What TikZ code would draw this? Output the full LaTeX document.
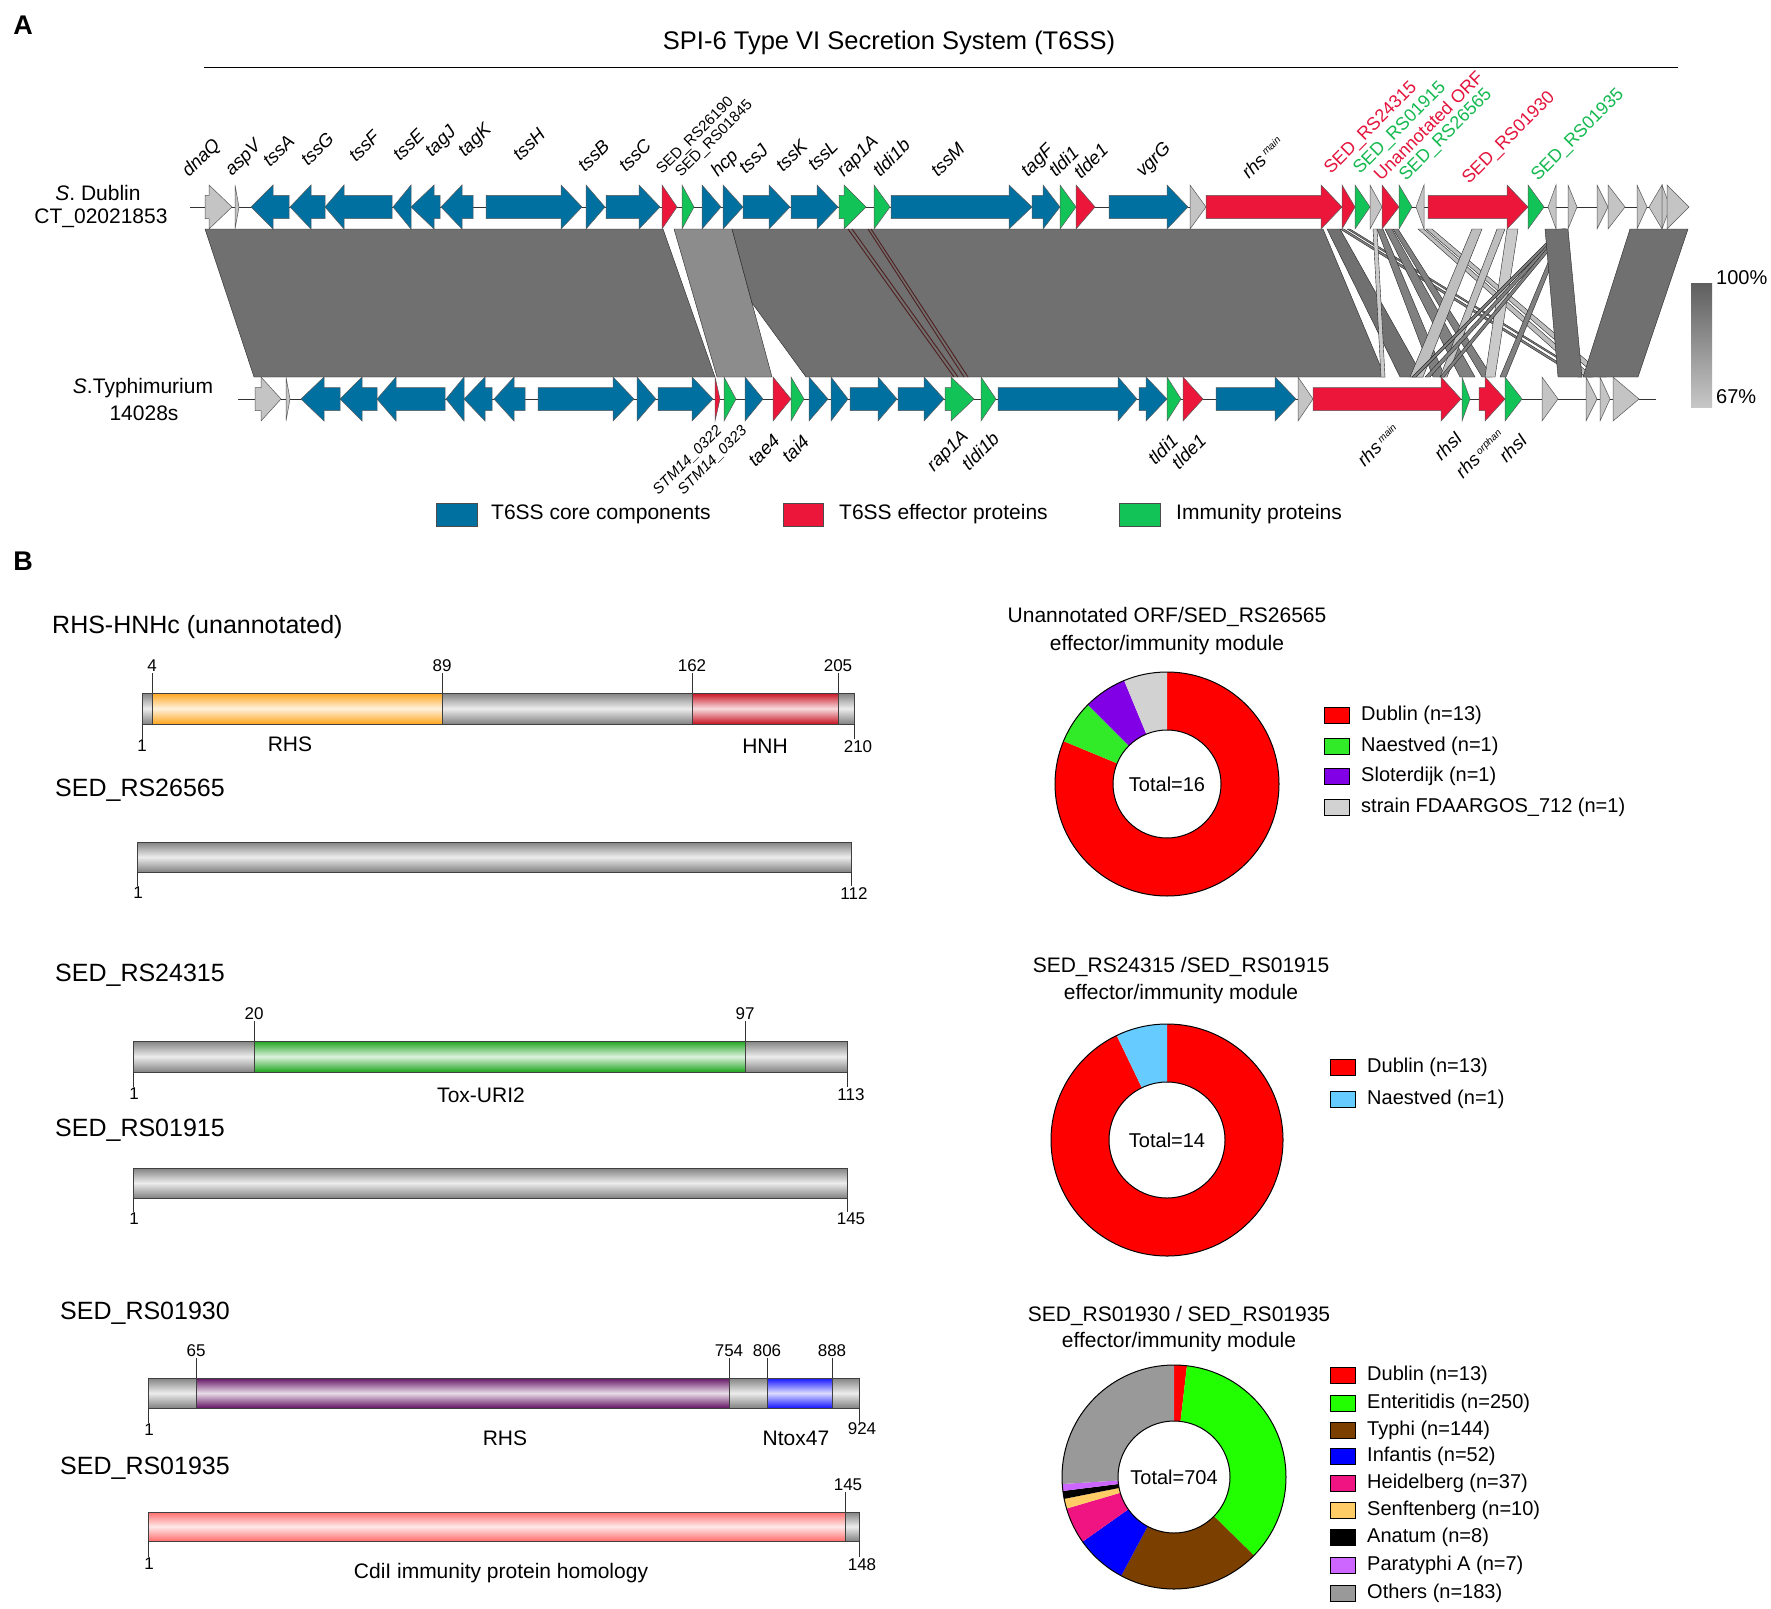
\documentclass[tikz,border=0pt]{standalone}
\usepackage{fontspec}
\setmainfont{Liberation Sans}
\usetikzlibrary{calc}
\definecolor{gblue}{RGB}{0,112,160}
\definecolor{gred}{RGB}{236,22,58}
\definecolor{ggreen}{RGB}{18,196,88}
\definecolor{ggray}{RGB}{196,196,196}
\definecolor{bdark}{RGB}{112,112,112}
\definecolor{bmid}{RGB}{140,140,140}
\definecolor{bstrip}{RGB}{128,128,128}
\definecolor{blight}{RGB}{190,190,190}
\definecolor{bvlight}{RGB}{202,202,202}
\definecolor{brownl}{RGB}{80,30,30}
\definecolor{labred}{RGB}{228,20,60}
\definecolor{labgreen}{RGB}{20,185,80}
\definecolor{corange}{RGB}{255,165,30}
\definecolor{chnh}{RGB}{200,20,35}
\definecolor{ctox}{RGB}{30,165,30}
\definecolor{crhs}{RGB}{100,20,100}
\definecolor{cntox}{RGB}{20,20,255}
\definecolor{ccdi}{RGB}{255,110,110}
\definecolor{cbar}{RGB}{130,130,130}
\definecolor{dred}{RGB}{255,0,0}
\definecolor{dgreen}{RGB}{50,235,40}
\definecolor{dpurple}{RGB}{130,0,230}
\definecolor{dlgray}{RGB}{210,210,210}
\definecolor{dsky}{RGB}{102,204,255}
\definecolor{dent}{RGB}{34,255,0}
\definecolor{dbrown}{RGB}{123,63,0}
\definecolor{dblue}{RGB}{0,0,255}
\definecolor{dpink}{RGB}{240,20,130}
\definecolor{dsand}{RGB}{255,204,102}
\definecolor{dviolet}{RGB}{204,102,255}
\definecolor{dothers}{RGB}{153,153,153}
\newcommand\GeneR[5]{\filldraw[gene, fill=#5] (#1,#4-11.5) -- (#2,#4-11.5) -- (#2,#4-22) -- (#3,#4) -- (#2,#4+22) -- (#2,#4+11.5) -- (#1,#4+11.5) -- cycle;}
\newcommand\GeneL[5]{\filldraw[gene, fill=#5] (#3,#4-11.5) -- (#2,#4-11.5) -- (#2,#4-22) -- (#1,#4) -- (#2,#4+22) -- (#2,#4+11.5) -- (#3,#4+11.5) -- cycle;}
\newcommand\Band[5]{\filldraw[band, fill=#5] (#1,229) -- (#2,229) -- (#4,377) -- (#3,377) -- cycle;}
\newcommand\Dom[5]{\shade[top color=#5, bottom color=#5, middle color=#5!15] (#1,#3) rectangle (#2,#4); \draw[black!75, line width=0.7pt] (#1,#3) rectangle (#2,#4);}
\newcommand\DSlice[7]{\fill[#7] plot[domain=#5:#6, samples=60, variable=\t] ({#1+#3*cos(\t)},{#2+#3*sin(\t)}) -- plot[domain=#5:#6, samples=60, variable=\t] ({#1+#4*cos(#5+#6-\t)},{#2+#4*sin(#5+#6-\t)}) -- cycle;}
\newcommand\LegItem[4]{\filldraw[fill=#3, draw=black, line width=0.8pt] (#1,#2-8) rectangle (#1+25,#2+8); \node[anchor=west, font=\fontsize{20}{20}\selectfont, inner sep=0pt] at (#1+37,#2) {#4};}
\begin{document}
\begin{tikzpicture}[x=1pt,y=-1pt,
  gene/.style={draw=black!65, line width=0.5pt},
  band/.style={draw=black!85, line width=0.4pt},
  glab/.style={font=\fontsize{18.5}{19}\selectfont\itshape, rotate=45, anchor=base west, inner sep=0pt},
  elab/.style={font=\fontsize{18}{18}\selectfont, rotate=45, anchor=base west, inner sep=0pt},
  slab/.style={font=\fontsize{15}{15}\selectfont, rotate=45, anchor=base west, inner sep=0pt},
  tlab/.style={font=\fontsize{18.5}{19}\selectfont\itshape, rotate=45, anchor=north east, inner sep=0pt},
  tlabs/.style={font=\fontsize{15}{15}\selectfont\itshape, rotate=45, anchor=north east, inner sep=0pt},
  hd/.style={anchor=west, font=\fontsize{25}{25}\selectfont, inner sep=0pt},
  num/.style={font=\fontsize{17}{17}\selectfont, inner sep=0pt},
  dl/.style={font=\fontsize{21}{21}\selectfont, inner sep=0pt},
  tick/.style={black!80, line width=0.7pt},
  dt/.style={font=\fontsize{21}{21}\selectfont, inner sep=0pt},
  lg/.style={font=\fontsize{21}{21}\selectfont, anchor=west, inner sep=0pt}]
\useasboundingbox (0,0) rectangle (1771,1608);
\fill[white] (0,0) rectangle (1771,1608);
% ---------------- Panel A ----------------
\node[font=\fontsize{27}{27}\selectfont\bfseries] (lA) at (23,25) {A};
\node[font=\fontsize{25.5}{26}\selectfont] (title) at (889,43) {SPI-6 Type VI Secretion System (T6SS)};
\draw[line width=0.8pt] (204,67) -- (1678,67);
% synteny bands
\Band{205}{663}{254}{715}{bdark}
\Band{674}{732}{717}{772}{bmid}
\filldraw[band, fill=bdark] (732,229) -- (1323,229) -- (1385,377) -- (806,377) -- (752,303) -- cycle;
\foreach \a/\b in {848/954,852/958,868/964,871/968}
  \draw[brownl, line width=0.9pt] (\a,229) -- (\b,377);
\Band{1327}{1340}{1400}{1423}{bdark}
\Band{1340}{1344}{1578}{1582}{bstrip}
\Band{1347}{1350}{1588}{1591}{bstrip}
\Band{1377}{1383}{1433}{1445}{bstrip}
\Band{1385}{1392}{1460}{1475}{bstrip}
\Band{1393}{1398}{1482}{1492}{bstrip}
\Band{1373}{1377}{1381}{1385}{bvlight}
\Band{1418}{1424}{1585}{1593}{blight}
\Band{1426}{1432}{1598}{1606}{blight}
\Band{1472}{1482}{1410}{1423}{blight}
\Band{1497}{1505}{1440}{1447}{blight}
\Band{1507}{1518}{1485}{1495}{bvlight}
\Band{1560}{1564}{1412}{1416}{bstrip}
\Band{1562}{1566}{1425}{1430}{bstrip}
\Band{1563}{1567}{1440}{1444}{bstrip}
\Band{1562}{1566}{1500}{1506}{bstrip}
\Band{1545}{1568}{1558}{1582}{bdark}
\Band{1630}{1688}{1583}{1638}{bdark}
% identity scale
\shade[top color=black!63, bottom color=black!22] (1691,283) rectangle (1712,407);
\node[anchor=west, font=\fontsize{20}{20}\selectfont, inner sep=0pt] (p100) at (1716,278) {100\%};
\node[anchor=west, font=\fontsize{20}{20}\selectfont, inner sep=0pt] (p67) at (1716,397) {67\%};
% strain labels
\node[font=\fontsize{21}{21}\selectfont] (sd1) at (98,193) {\textit{S}. Dublin};
\node[font=\fontsize{21}{21}\selectfont] (sd2) at (101,218) {CT\_02021853};
\node[font=\fontsize{21}{21}\selectfont] (st1) at (143,388) {\textit{S}.Typhimurium};
\node[font=\fontsize{21}{21}\selectfont] (st2) at (144,413) {14028s};
% backbone lines
\draw[black!80, line width=0.8pt] (190,207) -- (1689,207);
\draw[black!80, line width=0.8pt] (238,399) -- (1656,399);
% Dublin genes
\GeneR{205}{209}{232}{207}{ggray}
\GeneR{235}{235}{239}{207}{ggray}
\GeneL{251}{273}{289}{207}{gblue}
\GeneL{290}{311}{325}{207}{gblue}
\GeneL{325}{344}{392}{207}{gblue}
\GeneL{393}{411}{411}{207}{gblue}
\GeneL{411}{434}{440}{207}{gblue}
\GeneL{441}{462}{473}{207}{gblue}
\GeneR{486}{561}{582}{207}{gblue}
\GeneR{586}{586}{605}{207}{gblue}
\GeneR{606}{639}{660}{207}{gblue}
\GeneR{662}{662}{677}{207}{gred}
\GeneR{682}{682}{694}{207}{ggreen}
\GeneR{702}{702}{721}{207}{gblue}
\GeneR{723}{723}{743}{207}{gblue}
\GeneR{743}{769}{790}{207}{gblue}
\GeneR{791}{817}{838}{207}{gblue}
\GeneR{839}{844}{866}{207}{ggreen}
\GeneR{874}{874}{890}{207}{ggreen}
\GeneR{891}{1009}{1032}{207}{gblue}
\GeneR{1032}{1043}{1060}{207}{gblue}
\GeneR{1060}{1060}{1076}{207}{ggreen}
\GeneR{1076}{1076}{1095}{207}{gred}
\GeneR{1109}{1167}{1188}{207}{gblue}
\GeneR{1190}{1190}{1206}{207}{ggray}
\GeneR{1206}{1321}{1342}{207}{gred}
\GeneR{1342}{1342}{1355}{207}{gred}
\GeneR{1355}{1355}{1370}{207}{ggreen}
\GeneR{1370}{1370}{1382}{207}{ggray}
\GeneR{1382}{1382}{1399}{207}{gred}
\GeneR{1399}{1399}{1412}{207}{ggreen}
\GeneL{1416}{1424}{1424}{207}{ggray}
\GeneR{1428}{1507}{1528}{207}{gred}
\GeneR{1528}{1528}{1544}{207}{ggreen}
\GeneL{1548}{1556}{1556}{207}{ggray}
\GeneR{1568}{1568}{1577}{207}{ggray}
\GeneR{1597}{1597}{1608}{207}{ggray}
\GeneR{1608}{1608}{1625}{207}{ggray}
\GeneR{1637}{1637}{1647}{207}{ggray}
\GeneL{1649}{1662}{1662}{207}{ggray}
\GeneR{1662}{1662}{1670}{207}{ggray}
\GeneR{1667}{1667}{1689}{207}{ggray}
% Typhimurium genes
\GeneR{255}{261}{281}{399}{ggray}
\GeneR{286}{286}{290}{399}{ggray}
\GeneL{301}{324}{340}{399}{gblue}
\GeneL{340}{362}{377}{399}{gblue}
\GeneL{377}{396}{445}{399}{gblue}
\GeneL{446}{464}{464}{399}{gblue}
\GeneL{464}{485}{492}{399}{gblue}
\GeneL{494}{514}{525}{399}{gblue}
\GeneR{538}{613}{634}{399}{gblue}
\GeneR{637}{637}{656}{399}{gblue}
\GeneR{658}{692}{713}{399}{gblue}
\GeneR{715}{715}{720}{399}{gred}
\GeneR{724}{724}{736}{399}{ggreen}
\GeneR{745}{745}{763}{399}{gblue}
\GeneR{773}{773}{791}{399}{gred}
\GeneR{791}{791}{804}{399}{ggreen}
\GeneR{809}{809}{828}{399}{gblue}
\GeneR{831}{831}{848}{399}{gblue}
\GeneR{850}{878}{897}{399}{gblue}
\GeneR{898}{924}{944}{399}{gblue}
\GeneR{945}{951}{974}{399}{ggreen}
\GeneR{981}{981}{996}{399}{ggreen}
\GeneR{998}{1118}{1137}{399}{gblue}
\GeneR{1139}{1146}{1167}{399}{gblue}
\GeneR{1167}{1167}{1181}{399}{ggreen}
\GeneR{1183}{1183}{1203}{399}{gred}
\GeneR{1216}{1275}{1296}{399}{gblue}
\GeneR{1298}{1298}{1313}{399}{ggray}
\GeneR{1313}{1441}{1461}{399}{gred}
\GeneR{1462}{1462}{1470}{399}{ggreen}
\GeneR{1479}{1485}{1505}{399}{gred}
\GeneR{1505}{1505}{1522}{399}{ggreen}
\GeneR{1542}{1542}{1558}{399}{ggray}
\GeneR{1586}{1586}{1597}{399}{ggray}
\GeneR{1600}{1600}{1610}{399}{ggray}
\GeneR{1613}{1613}{1639}{399}{ggray}
% Dublin labels
\node[glab] (n1) at (189,178) {dnaQ};
\node[glab] (n2) at (232,177) {aspV};
\node[glab] (n3) at (270,168) {tssA};
\node[glab] (n4) at (308,167) {tssG};
\node[glab] (n5) at (356,163) {tssF};
\node[glab] (n6) at (400,162) {tssE};
\node[glab] (n7) at (432,158) {tagJ};
\node[glab] (n8) at (465,158) {tagK};
\node[glab] (n9) at (520,162) {tssH};
\node[glab] (n10) at (585,173) {tssB};
\node[glab] (n11) at (626,173) {tssC};
\node[slab] (n12) at (662,175) {SED\_RS26190};
\node[slab] (n13) at (681,178) {SED\_RS01845};
\node[glab] (n14) at (718,178) {hcp};
\node[glab] (n15) at (746,175) {tssJ};
\node[glab] (n16) at (783,173) {tssK};
\node[glab] (n17) at (815,172) {tssL};
\node[glab] (n18) at (844,178) {rap1A};
\node[glab] (n19) at (880,178) {tldi1b};
\node[glab] (n20) at (938,178) {tssM};
\node[glab] (n21) at (1028,178) {tagF};
\node[glab] (n22) at (1056,178) {tldi1};
\node[glab] (n23) at (1081,180) {tlde1};
\node[glab] (n24) at (1143,178) {vgrG};
\node[glab] (n25) at (1249,180) {rhs\,\raisebox{5pt}{\fontsize{10}{10}\selectfont main}};
\node[elab, text=labred] (n26) at (1331,175) {SED\_RS24315};
\node[elab, text=labgreen] (n27) at (1360,175) {SED\_RS01915};
\node[elab, text=labred] (n28) at (1381,182) {Unannotated ORF};
\node[elab, text=labgreen] (n29) at (1406,182) {SED\_RS26565};
\node[elab, text=labred] (n30) at (1469,185) {SED\_RS01930};
\node[elab, text=labgreen] (n31) at (1538,182) {SED\_RS01935};
% Typhimurium labels
\node[tlabs] (m1) at (715,424) {STM14\_0322};
\node[tlabs] (m2) at (740,424) {STM14\_0323};
\node[tlab] (m3) at (772,433) {tae4};
\node[tlab] (m4) at (801,433) {tai4};
\node[tlab] (m5) at (960,428) {rap1A};
\node[tlab] (m6) at (991,430) {tldi1b};
\node[tlab] (m7) at (1170,432) {tldi1};
\node[tlab] (m8) at (1198,432) {tlde1};
\node[tlab] (m9) at (1391,422) {rhs\,\raisebox{5pt}{\fontsize{10}{10}\selectfont main}};
\node[tlab] (m10) at (1454,430) {rhsI};
\node[tlab] (m11) at (1496,427) {rhs\,\raisebox{5pt}{\fontsize{10}{10}\selectfont orphan}};
\node[tlab] (m12) at (1519,432) {rhsI};
% legend A
\filldraw[fill=gblue, draw=black!70] (436,503) rectangle (477,526);
\node[lg] (la1) at (491,514) {T6SS core components};
\filldraw[fill=gred, draw=black!70] (783,503) rectangle (823,526);
\node[lg] (la2) at (839,514) {T6SS effector proteins};
\filldraw[fill=ggreen, draw=black!70] (1119,503) rectangle (1160,526);
\node[lg] (la3) at (1176,514) {Immunity proteins};
% ---------------- Panel B ----------------
\node[font=\fontsize{27}{27}\selectfont\bfseries] (lB) at (23,561) {B};
% Bar 1
\node[hd] (h1) at (52,627) {RHS-HNHc (unannotated)};
\Dom{142}{854}{693}{724}{cbar}
\Dom{152}{442}{693}{724}{corange}
\Dom{692}{838}{693}{724}{chnh}
\foreach \x/\t in {152/4,442/89,692/162,838/205}{
  \draw[tick] (\x,673) -- (\x,693);
  \node[num, anchor=south] at (\x,672) {\t};}
\draw[tick] (142,724) -- (142,739); \node[num, anchor=north] (b1a) at (142,740) {1};
\draw[tick] (854,724) -- (854,739); \node[num, anchor=north] (b1b) at (858,740) {210};
\node[dl] (rhs1) at (290,744) {RHS};
\node[dl] (hnh) at (765,746) {HNH};
% Bar 2
\node[hd] (h2) at (55,790) {SED\_RS26565};
\Dom{137}{851}{842}{872}{cbar}
\draw[tick] (137,872) -- (137,886); \node[num, anchor=north] (b2a) at (138,887) {1};
\draw[tick] (851,872) -- (851,886); \node[num, anchor=north] (b2b) at (854,887) {112};
% Bar 3
\node[hd] (h3) at (55,975) {SED\_RS24315};
\Dom{133}{847}{1041}{1072}{cbar}
\Dom{254}{745}{1041}{1072}{ctox}
\foreach \x/\t in {254/20,745/97}{
  \draw[tick] (\x,1021) -- (\x,1041);
  \node[num, anchor=south] at (\x,1020) {\t};}
\draw[tick] (133,1072) -- (133,1087); \node[num, anchor=north] (b3a) at (134,1088) {1};
\draw[tick] (847,1072) -- (847,1087); \node[num, anchor=north] (b3b) at (851,1088) {113};
\node[dl] (tox) at (481,1095) {Tox-URI2};
% Bar 4
\node[hd] (h4) at (55,1130) {SED\_RS01915};
\Dom{133}{847}{1168}{1198}{cbar}
\draw[tick] (133,1198) -- (133,1212); \node[num, anchor=north] (b4a) at (134,1213) {1};
\draw[tick] (847,1198) -- (847,1212); \node[num, anchor=north] (b4b) at (851,1213) {145};
% Bar 5
\node[hd] (h5) at (60,1313) {SED\_RS01930};
\Dom{148}{859}{1378}{1408}{cbar}
\Dom{196}{729}{1378}{1408}{crhs}
\Dom{767}{832}{1378}{1408}{cntox}
\foreach \x/\t in {196/65,729/754,767/806,832/888}{
  \draw[tick] (\x,1358) -- (\x,1378);
  \node[num, anchor=south] at (\x,1357) {\t};}
\draw[tick] (148,1408) -- (148,1423); \node[num, anchor=north] (b5a) at (149,1424) {1};
\draw[tick] (859,1408) -- (859,1423); \node[num, anchor=north] (b5b) at (862,1422) {924};
\node[dl] (rhs2) at (505,1438) {RHS};
\node[dl] (ntox) at (796,1438) {Ntox47};
% Bar 6
\node[hd] (h6) at (60,1468) {SED\_RS01935};
\Dom{148}{859}{1512}{1541}{cbar}
\Dom{148}{845}{1512}{1541}{ccdi}
\draw[tick] (845,1492) -- (845,1512); \node[num, anchor=south] (b6c) at (848,1491) {145};
\draw[tick] (148,1541) -- (148,1557); \node[num, anchor=north] (b6a) at (149,1558) {1};
\draw[tick] (859,1541) -- (859,1557); \node[num, anchor=north] (b6b) at (862,1558) {148};
\node[dl] (cdi) at (501,1573) {CdiI immunity protein homology};
% Donut 1
\node[dt] (t1a) at (1167,617) {Unannotated ORF/SED\_RS26565};
\node[dt] (t1b) at (1167,645) {effector/immunity module};
\DSlice{1167}{784}{112}{54}{-90}{202.5}{dred}
\DSlice{1167}{784}{112}{54}{202.5}{225}{dgreen}
\DSlice{1167}{784}{112}{54}{225}{247.5}{dpurple}
\DSlice{1167}{784}{112}{54}{247.5}{270}{dlgray}
\draw[line width=1pt] (1167,784) circle[radius=112];
\draw[line width=1pt] (1167,784) circle[radius=54];
\node[font=\fontsize{20}{20}\selectfont] (tot1) at (1167,784) {Total=16};
\LegItem{1324}{715}{dred}{Dublin (n=13)}
\LegItem{1324}{746}{dgreen}{Naestved (n=1)}
\LegItem{1324}{776}{dpurple}{Sloterdijk (n=1)}
\LegItem{1324}{807}{dlgray}{strain FDAARGOS\_712 (n=1)}
% Donut 2
\node[dt] (t2a) at (1181,967) {SED\_RS24315 /SED\_RS01915};
\node[dt] (t2b) at (1181,994) {effector/immunity module};
\DSlice{1167}{1140}{116}{58}{-90}{244.29}{dred}
\DSlice{1167}{1140}{116}{58}{244.29}{270}{dsky}
\draw[line width=1pt] (1167,1140) circle[radius=116];
\draw[line width=1pt] (1167,1140) circle[radius=58];
\node[font=\fontsize{20}{20}\selectfont] (tot2) at (1167,1140) {Total=14};
\LegItem{1330}{1067}{dred}{Dublin (n=13)}
\LegItem{1330}{1099}{dsky}{Naestved (n=1)}
% Donut 3
\node[dt] (t3a) at (1179,1316) {SED\_RS01930 / SED\_RS01935};
\node[dt] (t3b) at (1179,1342) {effector/immunity module};
\DSlice{1174}{1477}{112}{56}{-90}{-83.35}{dred}
\DSlice{1174}{1477}{112}{56}{-83.35}{44.49}{dent}
\DSlice{1174}{1477}{112}{56}{44.49}{118.13}{dbrown}
\DSlice{1174}{1477}{112}{56}{118.13}{144.72}{dblue}
\DSlice{1174}{1477}{112}{56}{144.72}{163.64}{dpink}
\DSlice{1174}{1477}{112}{56}{163.64}{168.75}{dsand}
\DSlice{1174}{1477}{112}{56}{168.75}{172.84}{black}
\DSlice{1174}{1477}{112}{56}{172.84}{176.42}{dviolet}
\DSlice{1174}{1477}{112}{56}{176.42}{270}{dothers}
\draw[line width=1pt] (1174,1477) circle[radius=112];
\draw[line width=1pt] (1174,1477) circle[radius=56];
\node[font=\fontsize{20}{20}\selectfont] (tot3) at (1174,1477) {Total=704};
\LegItem{1330}{1375}{dred}{Dublin (n=13)}
\LegItem{1330}{1403}{dent}{Enteritidis (n=250)}
\LegItem{1330}{1430}{dbrown}{Typhi (n=144)}
\LegItem{1330}{1456}{dblue}{Infantis (n=52)}
\LegItem{1330}{1483}{dpink}{Heidelberg (n=37)}
\LegItem{1330}{1510}{dsand}{Senftenberg (n=10)}
\LegItem{1330}{1537}{black}{Anatum (n=8)}
\LegItem{1330}{1565}{dviolet}{Paratyphi A (n=7)}
\LegItem{1330}{1593}{dothers}{Others (n=183)}
\end{tikzpicture}
\end{document}
